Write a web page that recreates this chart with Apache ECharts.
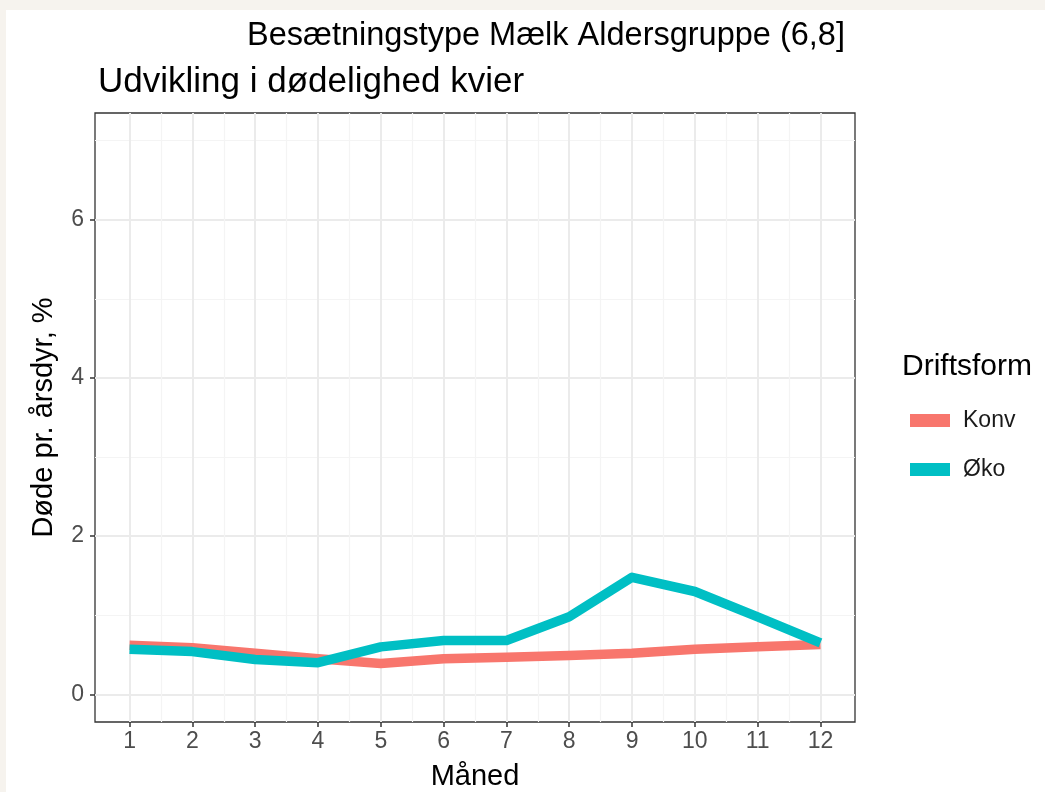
<!DOCTYPE html>
<html>
<head>
<meta charset="utf-8">
<script src="https://cdn.jsdelivr.net/npm/echarts@6/dist/echarts.min.js"></script>
<style>
html,body{margin:0;padding:0;background:#f6f3ee;}
#c{width:1045px;height:792px;}
</style>
</head>
<body>
<div id="c"></div>
<script>
const months = [1,2,3,4,5,6,7,8,9,10,11,12];
const konv = [0.62,0.59,0.52,0.45,0.39,0.45,0.47,0.49,0.52,0.57,0.60,0.63];
const oko  = [0.57,0.54,0.44,0.40,0.60,0.68,0.68,0.98,1.48,1.30,0.98,0.65];
const xMajor = months;
const xMinor = [1.5,2.5,3.5,4.5,5.5,6.5,7.5,8.5,9.5,10.5,11.5];
const yMajor = [0,2,4,6];
const yMinor = [1,3,5,7];
const seriesNames = ['Konv','Øko'];
const seriesColors = ['#F8766D','#00BFC4'];

const FONT = 'Liberation Sans, Arial, sans-serif';
const chart = echarts.init(document.getElementById('c'), null, {renderer:'canvas'});

const pair = (xs, ys) => xs.map((x,i)=>[x, ys[i]]);

const option = {
  backgroundColor: '#ffffff',
  animation: false,
  graphic: [
    {type:'rect', shape:{x:0,y:0,width:1045,height:10}, style:{fill:'#f6f3ee'}, z:-1},
    {type:'rect', shape:{x:0,y:0,width:6,height:792}, style:{fill:'#f6f3ee'}, z:-1}
  ],
  title: [
    {text:'Besætningstype Mælk Aldersgruppe (6,8]', left:541, top:15, textAlign:'center',
     textStyle:{fontFamily:FONT, fontSize:32.5, fontWeight:'normal', color:'#000'}},
    {text:'Udvikling i dødelighed kvier', left:93, top:60,
     textStyle:{fontFamily:FONT, fontSize:35, fontWeight:'normal', color:'#000'}},
    {text:'Driftsform', left:897, top:347,
     textStyle:{fontFamily:FONT, fontSize:30, fontWeight:'normal', color:'#000'}}
  ],
  legend: {
    orient:'vertical', left:905, top:404, itemWidth:40, itemHeight:13, itemGap:26,
    icon:'rect',
    textStyle:{fontFamily:FONT, fontSize:23, color:'#1a1a1a', padding:[0,0,0,8]},
    data: seriesNames.map((n,i)=>({name:n, itemStyle:{color:seriesColors[i]}}))
  },
  grid: {left:95, top:113, width:760, height:609, show:true, borderColor:'#333333', borderWidth:1.3,
         backgroundColor:'transparent', containLabel:false, outerBoundsMode:'none'},
  xAxis: [
    {type:'value', min:0.45, max:12.55,
     name:'Måned', nameLocation:'middle', nameGap:40,
     nameTextStyle:{fontFamily:FONT, fontSize:29, color:'#000'},
     axisLine:{show:false, onZero:false},
     axisTick:{show:true, customValues:xMajor, length:5, lineStyle:{color:'#333', width:1.5}},
     axisLabel:{customValues:xMajor, fontFamily:FONT, fontSize:23, color:'#4d4d4d', margin:8},
     splitLine:{show:true, lineStyle:{color:'#ebebeb', width:2}}},
    {type:'value', min:0.45, max:12.55, gridIndex:0,
     axisLine:{show:false, onZero:false}, axisLabel:{show:false},
     axisTick:{show:false, customValues:xMinor},
     splitLine:{show:true, lineStyle:{color:'#f4f4f4', width:1.2}}}
  ],
  yAxis: [
    {type:'value', min:-0.35, max:7.35,
     name:'Døde pr. årsdyr, %', nameLocation:'middle', nameGap:37, nameRotate:90,
     nameTextStyle:{fontFamily:FONT, fontSize:29, color:'#000'},
     axisLine:{show:false, onZero:false},
     axisTick:{show:true, customValues:yMajor, length:5, lineStyle:{color:'#333', width:1.5}},
     axisLabel:{customValues:yMajor, fontFamily:FONT, fontSize:23, color:'#4d4d4d', margin:11},
     splitLine:{show:true, lineStyle:{color:'#ebebeb', width:2}}},
    {type:'value', min:-0.35, max:7.35, gridIndex:0,
     axisLine:{show:false, onZero:false}, axisLabel:{show:false},
     axisTick:{show:false, customValues:yMinor},
     splitLine:{show:true, lineStyle:{color:'#f4f4f4', width:1.2}}}
  ],
  series: [
    {name:seriesNames[0], type:'line', data:pair(months, konv), showSymbol:false, symbol:'none',
     lineStyle:{color:seriesColors[0], width:9.5, cap:'butt', join:'round'}, itemStyle:{color:seriesColors[0]}, z:2},
    {name:seriesNames[1], type:'line', data:pair(months, oko), showSymbol:false, symbol:'none',
     lineStyle:{color:seriesColors[1], width:9.5, cap:'butt', join:'round'}, itemStyle:{color:seriesColors[1]}, z:3}
  ]
};
chart.setOption(option);
</script>
</body>
</html>
